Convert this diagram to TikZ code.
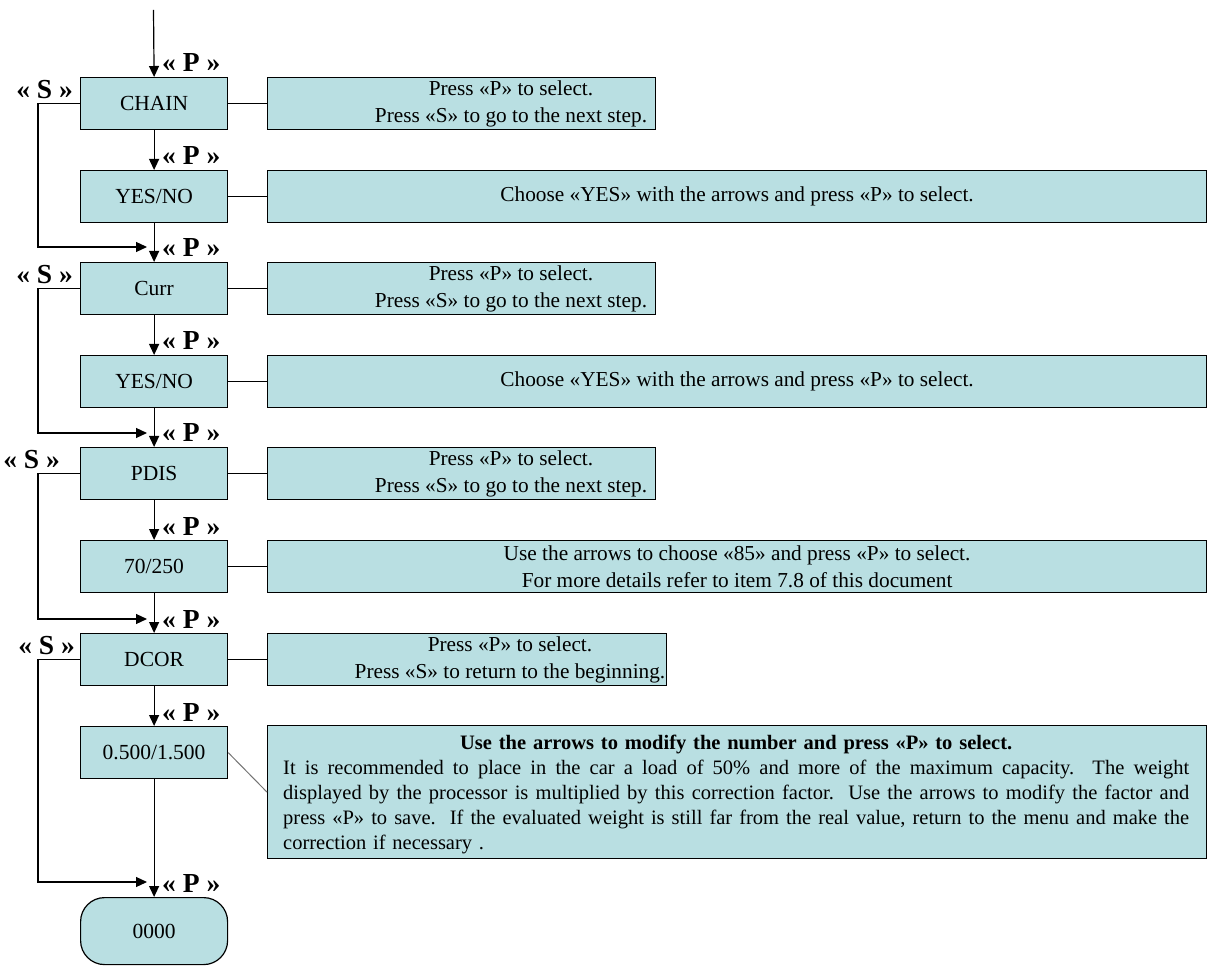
\documentclass[tikz,border=0pt]{standalone}
\usepackage{fontspec}
\setmainfont{Liberation Serif}
\usetikzlibrary{arrows.meta}
\definecolor{boxfill}{RGB}{185,223,226}
\newcommand\jline[1]{\makebox[906pt][s]{\frenchspacing\spaceskip=0.25em plus 1.5em minus 0.12em\relax #1}}
\begin{document}
\begin{tikzpicture}[x=1pt,y=-1pt,
  box/.style={draw=black,fill=boxfill,line width=1.2pt,inner sep=0pt,anchor=north west,
    font=\fontsize{21.3}{26.5}\selectfont},
  mainbox/.style={box,minimum width=147pt,minimum height=52pt,font=\fontsize{21.5}{26}\selectfont},
  shortdesc/.style={box,minimum width=388pt,minimum height=52pt},
  longdesc/.style={box,minimum width=939pt,minimum height=52pt,align=center},
  dtext/.style={inner sep=0pt,align=center,font=\fontsize{21.3}{26.5}\selectfont},
  conn/.style={draw=black,line width=1.2pt},
  arr/.style={conn,-{Triangle[length=11pt,width=10pt]}},
  plabel/.style={inner sep=0pt,anchor=base west,font=\fontsize{27.5}{28}\selectfont\bfseries},
  slabel/.style={inner sep=0pt,anchor=base east,font=\fontsize{27.5}{28}\selectfont\bfseries},
]
\useasboundingbox (0,0) rectangle (1208,973);

% main column
\node[mainbox] (chain) at (80,77) {CHAIN};
\node[mainbox] (yn1) at (80,170) {YES/NO};
\node[mainbox] (curr) at (80,262) {Curr};
\node[mainbox] (yn2) at (80,355) {YES/NO};
\node[mainbox] (pdis) at (80,447) {PDIS};
\node[mainbox] (pv) at (80,540) {70/250};
\node[mainbox] (dcor) at (80,633) {DCOR};
\node[mainbox] (fac) at (80,726) {0.500/1.500};
\node[box,minimum width=147pt,minimum height=67pt,rounded corners=24pt,
  font=\fontsize{21.5}{26}\selectfont] (end) at (80,897) {0000};

% description boxes
\node[shortdesc] (d1) at (267,77) {};
\node[dtext] (t1) at (511,104) {Press «P» to select.\\Press «S» to go to the next step.};
\node[longdesc] (d2) at (267,170) {Choose «YES» with the arrows and press «P» to select.};
\node[shortdesc] (d3) at (267,262) {};
\node[dtext] (t3) at (511,289) {Press «P» to select.\\Press «S» to go to the next step.};
\node[longdesc] (d4) at (267,355) {Choose «YES» with the arrows and press «P» to select.};
\node[shortdesc] (d5) at (267,447) {};
\node[dtext] (t5) at (511,474) {Press «P» to select.\\Press «S» to go to the next step.};
\node[longdesc] (d6) at (267,540) {Use the arrows to choose «85» and press «P» to select.\\For more details refer to item 7.8 of this document};
\node[shortdesc,minimum width=399pt] (d7) at (267,633) {};
\node[dtext] (t7) at (510,660) {Press «P» to select.\\Press «S» to return to the beginning.};
\node[box,minimum width=939pt,minimum height=133pt] (d8) at (267,725) {};
\node[inner sep=0pt,anchor=north west,text width=906pt,align=left,
  font=\fontsize{20.5}{25}\selectfont] (t8) at (283,735) {%
\makebox[906pt][c]{\bfseries Use the arrows to modify the number and press «P» to select.}\\
\jline{It is recommended to place in the car a load of 50\% and more of the maximum capacity.\ \ The weight}\\
\jline{displayed by the processor is multiplied by this correction factor.\ \ Use the arrows to modify the factor and}\\
\jline{press «P» to save.\ \ If the evaluated weight is still far from the real value, return to the menu and make the}\\
correction if necessary .};

% connectors to descriptions
\draw[conn] (chain.east) -- (d1.west);
\draw[conn] (yn1.east) -- (d2.west);
\draw[conn] (curr.east) -- (d3.west);
\draw[conn] (yn2.east) -- (d4.west);
\draw[conn] (pdis.east) -- (d5.west);
\draw[conn] (pv.east) -- (d6.west);
\draw[conn] (dcor.east) -- (d7.west);
\draw[draw=black!55,line width=1pt] (fac.east) -- (d8.west);

% main flow
\coordinate (start) at (153.5,10);
\draw[arr] (start) -- (chain.north);
\draw[arr] (chain) -- (yn1);
\draw[arr] (yn1) -- (curr);
\draw[arr] (curr) -- (yn2);
\draw[arr] (yn2) -- (pdis);
\draw[arr] (pdis) -- (pv);
\draw[arr] (pv) -- (dcor);
\draw[arr] (dcor) -- (fac);
\draw[arr] (fac) -- (end);

% S loops
\coordinate (c1) at (38,247);  \coordinate (m1) at (147,247);
\coordinate (c2) at (38,433);  \coordinate (m2) at (147,433);
\coordinate (c3) at (38,619);  \coordinate (m3) at (147,619);
\coordinate (c4) at (38,882);  \coordinate (m4) at (147,882);
\draw[arr] (chain.west) -| (c1) -- (m1);
\draw[arr] (curr.west) -| (c2) -- (m2);
\draw[arr] (pdis.west) -| (c3) -- (m3);
\draw[arr] (dcor.west) -| (c4) -- (m4);

% labels
\node[plabel] (p1) at (162,72) {« P »};
\node[plabel] (p2) at (162,165) {« P »};
\node[plabel] (p3) at (162,257) {« P »};
\node[plabel] (p4) at (162,350) {« P »};
\node[plabel] (p5) at (162,442) {« P »};
\node[plabel] (p6) at (162,535) {« P »};
\node[plabel] (p7) at (162,628) {« P »};
\node[plabel] (p8) at (162,721) {« P »};
\node[plabel] (p9) at (162,892) {« P »};
\node[slabel] (s1) at (73,99) {« S »};
\node[slabel] (s2) at (73,284) {« S »};
\node[slabel] (s3) at (60,468) {« S »};
\node[slabel] (s4) at (75,654) {« S »};
\end{tikzpicture}
\end{document}
